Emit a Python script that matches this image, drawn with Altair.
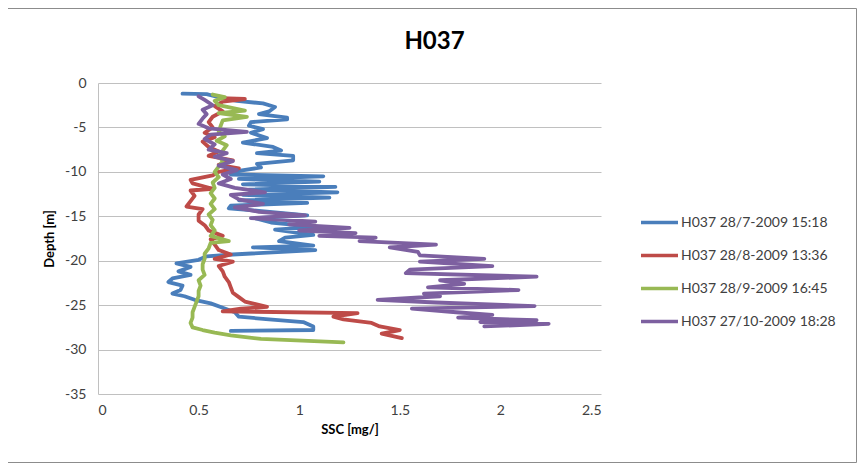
import altair as alt
import pandas as pd

series_names = [
    "H037 28/7-2009 15:18",
    "H037 28/8-2009 13:36",
    "H037 28/9-2009 16:45",
    "H037 27/10-2009 18:28",
]
series_colors = ["#4A7EBB", "#BE4B48", "#98B954", "#7D60A0"]

blue_depth = [-1.2, -1.25, -1.6, -2.0, -2.3, -2.7, -3.2, -3.5, -3.9, -4.1, -4.4, -4.8, -5.2, -5.6,
              -6.2, -6.7, -7.2, -7.6, -7.9, -8.2, -8.7, -9.1, -9.5, -9.9, -10.3, -10.5, -10.8,
              -11.1, -11.4, -11.7, -12.0, -12.3, -12.6, -12.9, -13.2, -13.5, -13.8, -14.1, -14.4,
              -14.9, -15.2, -15.7, -16.2, -16.5, -17.1, -17.4, -17.8, -18.3, -18.5, -18.8, -19.3,
              -19.5, -19.9, -20.3, -20.7, -21.2, -21.6, -22.0, -22.4, -22.8, -23.3, -23.7, -24.0,
              -24.4, -24.8, -25.3, -25.8, -26.3, -26.6, -26.9, -27.4, -27.8, -27.9]
blue_ssc = [0.42, 0.54, 0.60, 0.69, 0.82, 0.88, 0.85, 0.80, 0.94, 0.94, 0.76, 0.75, 0.82, 0.76,
            0.84, 0.72, 0.87, 0.91, 0.79, 0.97, 0.97, 0.79, 0.81, 0.70, 0.66, 1.12, 0.70,
            1.10, 0.72, 1.18, 0.75, 1.19, 0.72, 1.15, 0.70, 1.04, 0.66, 0.65, 0.80,
            1.04, 0.78, 0.86, 1.08, 0.88, 1.07, 0.93, 0.90, 1.07, 0.77, 1.08, 0.67,
            0.54, 0.50, 0.39, 0.46, 0.40, 0.46, 0.37, 0.35, 0.42, 0.41, 0.37, 0.43,
            0.48, 0.56, 0.62, 0.68, 0.70, 0.85, 1.02, 1.07, 1.07, 0.66]

red_depth = [-1.7, -1.8, -2.1, -2.6, -3.2, -3.8, -4.4, -5.0, -5.6, -6.1, -6.6, -7.2, -7.7, -8.2,
             -8.7, -9.2, -9.6, -10.0, -10.4, -10.9, -11.3, -11.9, -12.1, -12.7, -13.3, -13.9,
             -14.2, -14.8, -15.5, -16.0, -16.6, -17.2, -17.6, -18.2, -18.8, -19.3, -19.8, -20.1,
             -20.6, -21.2, -21.8, -22.4, -23.0, -23.6, -24.1, -24.6, -25.2, -25.4, -25.7, -25.9,
             -26.3, -26.6, -27.0, -27.4, -27.8, -28.2, -28.7]
red_ssc = [0.61, 0.73, 0.62, 0.58, 0.62, 0.57, 0.55, 0.57, 0.53, 0.58, 0.52, 0.55, 0.60, 0.55,
           0.67, 0.60, 0.70, 0.60, 0.57, 0.46, 0.47, 0.57, 0.46, 0.48, 0.46, 0.44,
           0.52, 0.50, 0.50, 0.53, 0.55, 0.62, 0.56, 0.58, 0.60, 0.66, 0.58, 0.67,
           0.60, 0.62, 0.63, 0.65, 0.66, 0.67, 0.70, 0.73, 0.84, 0.71, 0.62, 1.29,
           1.17, 1.22, 1.36, 1.40, 1.50, 1.41, 1.51]

green_depth = [-1.3, -1.6, -2.0, -2.5, -3.1, -3.4, -3.8, -4.2, -4.8, -5.5, -6.0, -6.5, -7.0, -7.6,
               -8.2, -8.8, -9.4, -10.0, -10.6, -11.2, -11.8, -12.4, -13.0, -13.6, -14.2, -14.8,
               -15.4, -16.0, -16.6, -17.2, -17.8, -18.0, -18.6, -19.2, -19.8, -20.4, -21.0, -21.6,
               -22.2, -22.8, -23.4, -24.0, -24.6, -25.2, -25.8, -26.4, -27.0, -27.5, -27.8, -28.1,
               -28.4, -28.8, -29.2]
green_ssc = [0.57, 0.63, 0.58, 0.60, 0.73, 0.60, 0.74, 0.62, 0.61, 0.60, 0.63, 0.59, 0.64, 0.62,
             0.60, 0.62, 0.60, 0.58, 0.60, 0.57, 0.58, 0.56, 0.58, 0.56, 0.58, 0.55,
             0.57, 0.56, 0.58, 0.56, 0.65, 0.56, 0.55, 0.53, 0.53, 0.52, 0.52, 0.53,
             0.50, 0.51, 0.50, 0.50, 0.49, 0.48, 0.47, 0.47, 0.46, 0.47, 0.52, 0.58,
             0.66, 0.81, 1.22]

purple_depth = [-1.5, -1.9, -2.5, -3.0, -3.5, -4.0, -4.6, -5.1, -5.5, -5.8, -6.3, -6.9, -7.5, -7.9,
                -8.3, -8.8, -9.3, -9.8, -10.3, -10.8, -11.3, -11.8, -12.3, -12.6, -13.1, -13.6,
                -14.0, -14.5, -14.9, -15.2, -15.6, -15.9, -16.3, -16.6, -16.9, -17.2, -17.4, -17.8,
                -18.2, -18.5, -19.0, -19.4, -19.8, -20.1, -20.6, -21.0, -21.4, -21.8, -22.2, -22.6,
                -23.0, -23.3, -23.7, -24.0, -24.4, -24.7, -25.1, -25.4, -25.8, -26.1, -26.4, -26.7,
                -26.9, -27.1, -27.4]
purple_ssc = [0.50, 0.53, 0.57, 0.52, 0.54, 0.52, 0.50, 0.55, 0.74, 0.56, 0.53, 0.58, 0.55, 0.64,
              0.58, 0.67, 0.60, 0.69, 0.62, 0.66, 0.60, 0.68, 0.83, 0.66, 0.70, 0.82,
              0.68, 0.80, 1.03, 0.76, 1.08, 0.95, 1.25, 1.00, 1.28, 1.10, 1.38, 1.30,
              1.68, 1.45, 1.59, 1.60, 1.92, 1.60, 1.96, 1.55, 1.53, 2.18, 1.70, 1.82,
              1.64, 2.09, 1.62, 1.70, 1.39, 1.68, 2.17, 1.56, 1.78, 1.96, 1.79, 2.18,
              1.90, 2.24, 1.92]

x_ticks = [0, 0.5, 1, 1.5, 2, 2.5]
y_ticks = [0, -5, -10, -15, -20, -25, -30, -35]

rows = []
for name, ssc, dep in zip(series_names,
                          [blue_ssc, red_ssc, green_ssc, purple_ssc],
                          [blue_depth, red_depth, green_depth, purple_depth]):
    for i, (s, d) in enumerate(zip(ssc, dep)):
        rows.append({"series": name, "ssc": s, "depth": d, "idx": i})
df = pd.DataFrame(rows)

FONT = "Lato"
W, H = 503, 311
PAD = {"left": 90, "top": 75, "right": 256, "bottom": 70}

lines = alt.Chart(df).mark_line(strokeWidth=3.8, strokeJoin="round", strokeCap="round").encode(
    x=alt.X("ssc:Q", title="SSC [mg/]",
            scale=alt.Scale(domain=[0, 2.5], nice=False, zero=False),
            axis=alt.Axis(values=x_ticks, format="~g", grid=False, domain=False, ticks=False,
                          labelPadding=9, titlePadding=6, labelFontSize=14,
                          titleFontSize=13, titleFontWeight="bold")),
    y=alt.Y("depth:Q", title="Depth [m]",
            scale=alt.Scale(domain=[-35, 0], nice=False, zero=False),
            axis=alt.Axis(values=y_ticks, labelExpr="'' + datum.value", grid=True,
                          domain=True, ticks=False, labelPadding=12, titlePadding=8,
                          labelFontSize=14, titleFontSize=13, titleFontWeight="bold")),
    color=alt.Color("series:N", title=None,
                    scale=alt.Scale(domain=series_names, range=series_colors),
                    legend=alt.Legend(orient="none", legendX=541, legendY=119,
                                      symbolType="stroke", symbolSize=1369,
                                      symbolStrokeWidth=3.5, labelFontSize=14,
                                      labelOffset=1, rowPadding=5, labelLimit=300)),
    order=alt.Order("idx:Q"),
    detail="series:N",
)

frame = alt.Chart(pd.DataFrame({"a": [0]})).mark_rect(
    fillOpacity=0, stroke="#8C8C8C", strokeWidth=1
).encode(
    x=alt.value(-90.5), x2=alt.value(W + PAD["right"] - 0.5),
    y=alt.value(-74.5), y2=alt.value(H + PAD["bottom"] - 1.5),
)

chart = alt.layer(frame, lines).properties(
    width=W, height=H,
    title=alt.TitleParams("H037", fontSize=24, fontWeight="bold", font=FONT,
                          anchor="middle", frame="group", dx=85, dy=46, offset=0,
                          color="#000000"),
    autosize=alt.AutoSizeParams(type="none"),
    padding=PAD,
).configure_view(stroke=None).configure_axis(
    labelFont=FONT, titleFont=FONT, labelColor="#404040", titleColor="#000000",
    gridColor="#C0C0C0", domainColor="#C0C0C0", gridWidth=1,
).configure_legend(labelFont=FONT, labelColor="#404040", padding=0)

chart.save("out.html", embed_options={"renderer": "svg", "actions": False})
